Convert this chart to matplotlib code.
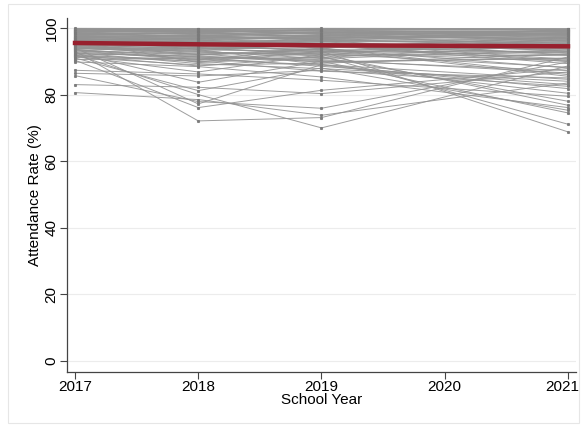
import matplotlib
matplotlib.use("Agg")
import matplotlib.pyplot as plt
import matplotlib.transforms as mtransforms
from matplotlib.patches import Rectangle

plt.rcParams['font.family'] = ['Liberation Sans', 'DejaVu Sans']

# school years with data (no 2020 collection)
years = [2017, 2018, 2019, 2021]

# attendance rate (%) per school, one entry per school in each list
rate_2017 = [80.6, 83.0, 85.7, 86.4, 87.3, 93.0, 92.0, 89.8, 90.3, 91.0,
             94.0, 92.5, 96.0, 95.0, 91.5, 97.0, 93.5, 90.5,
             99.8, 99.5, 99.3, 99.0, 98.8, 98.6, 98.3, 98.1, 97.9, 97.6,
             97.4, 97.2, 97.0, 96.8, 96.5, 96.3, 96.1, 95.9, 95.6, 95.4,
             95.2, 95.0, 94.7, 94.5, 94.2, 94.0, 93.7, 93.4, 93.1, 92.8,
             92.4, 92.0, 91.6, 91.2, 99.9, 99.7, 99.6, 99.4, 99.2, 98.9,
             98.7, 98.5, 98.2, 98.0, 97.8, 97.5, 97.3, 97.1, 96.9, 96.6,
             96.4, 96.2, 95.8, 95.7, 95.5, 95.3, 95.1, 94.8, 94.6, 94.3,
             94.1, 93.8, 93.5, 93.2, 92.6, 92.2, 91.8, 91.4, 99.1, 98.4,
             97.7, 96.7, 99.5, 98.9, 97.0, 96.0, 94.9, 93.9]
rate_2018 = [78.5, 82.2, 77.9, 85.6, 86.2, 72.1, 80.0, 88.4, 76.1, 81.2,
             77.2, 83.7, 89.6, 92.0, 86.8, 93.5, 90.5, 91.0,
             99.6, 99.1, 98.7, 99.4, 98.0, 97.4, 98.9, 97.7, 98.4, 96.8,
             97.9, 96.3, 97.1, 95.6, 96.9, 95.2, 96.5, 94.8, 95.9, 94.1,
             95.3, 93.6, 94.5, 92.9, 93.8, 92.4, 93.1, 91.8, 92.2, 90.9,
             91.4, 89.9, 90.6, 88.9, 99.8, 99.3, 99.7, 98.5, 99.0, 98.8,
             99.5, 98.2, 97.6, 98.6, 97.2, 97.8, 96.6, 97.5, 96.1, 96.7,
             95.8, 96.0, 95.5, 94.9, 95.1, 94.3, 94.6, 93.9, 93.3, 92.7,
             92.0, 94.0, 91.2, 90.3, 89.3, 91.6, 88.6, 90.1, 99.2, 98.3,
             97.3, 96.4, 99.6, 99.1, 97.0, 95.7, 94.7, 93.4]
rate_2019 = [73.8, 80.3, 75.9, 87.3, 84.3, 73.1, 70.0, 85.3, 81.3, 88.0,
             89.0, 90.0, 91.5, 93.0, 92.0, 89.0, 94.0, 88.5,
             99.7, 98.8, 99.4, 98.2, 97.5, 98.9, 97.1, 96.4, 98.6, 97.8,
             96.0, 95.2, 97.3, 94.6, 96.8, 95.8, 93.9, 96.2, 94.3, 95.5,
             92.8, 94.9, 93.2, 91.6, 94.0, 92.3, 90.8, 93.6, 89.7, 91.1,
             90.2, 92.6, 88.9, 89.4, 99.9, 99.5, 99.0, 99.6, 98.4, 99.2,
             98.0, 97.7, 98.7, 97.4, 96.9, 98.3, 97.0, 96.6, 97.6, 95.4,
             96.5, 95.0, 96.7, 94.4, 95.9, 93.5, 94.8, 92.5, 95.1, 91.9,
             93.8, 92.0, 90.5, 92.9, 87.8, 89.9, 91.3, 87.0, 99.3, 98.5,
             97.9, 96.3, 99.8, 98.6, 97.2, 96.1, 94.2, 93.0]
rate_2021 = [83.5, 86.8, 89.8, 82.5, 79.5, 91.3, 88.6, 76.1, 87.8, 75.3,
             84.6, 74.5, 71.1, 68.8, 76.8, 81.8, 86.0, 83.0,
             99.5, 99.2, 98.1, 97.6, 99.0, 96.2, 98.4, 95.3, 97.9, 94.7,
             99.6, 93.8, 96.8, 92.4, 98.7, 93.1, 97.2, 91.9, 95.8, 90.6,
             96.5, 89.3, 94.2, 92.9, 97.4, 88.2, 93.5, 85.5, 91.0, 94.9,
             87.2, 90.1, 80.4, 92.2, 99.8, 99.4, 98.9, 99.7, 98.3, 97.0,
             99.3, 96.6, 98.0, 95.0, 98.6, 96.0, 97.7, 94.4, 99.1, 95.6,
             97.5, 93.4, 98.2, 92.6, 96.3, 94.6, 90.3, 95.4, 89.9, 96.9,
             88.0, 91.7, 86.5, 93.0, 84.0, 90.8, 78.0, 85.0, 99.0, 98.5,
             97.8, 96.7, 99.6, 98.8, 97.1, 95.9, 93.9, 92.0]

# average attendance across schools
mean_rate = [95.5, 95.1, 94.8, 94.5]

fig = plt.figure(figsize=(5.81, 4.25), dpi=100)
fig.patch.set_facecolor('white')
fig.patches.append(Rectangle((8 / 581, 2 / 425), 571 / 581, 419 / 425,
                             transform=fig.transFigure, fill=False,
                             edgecolor='#e6e6e6', lw=0.8))

ax = fig.add_axes([67 / 581, 53 / 425, 509 / 581, 354 / 425])

for i in range(len(rate_2017)):
    vals = [rate_2017[i], rate_2018[i], rate_2019[i], rate_2021[i]]
    ax.plot(years, vals, color='#939393', lw=0.7, alpha=0.9,
            marker='s', ms=1.2, mec='#7a7a7a', mfc='#7a7a7a', zorder=2)

ax.plot(years, mean_rate, color='#98202e', lw=3.2, zorder=3)

ax.set_xlim(2016.935, 2021.065)
ax.set_ylim(-3.3, 103)
ax.set_xticks([2017, 2018, 2019, 2020, 2021])
ax.set_yticks([0, 20, 40, 60, 80, 100])
ax.set_yticklabels(['0', '20', '40', '60', '80', '100'], rotation=90, va='center')
ax.tick_params(labelsize=11, length=5, width=0.8, color='#444444')
ax.tick_params(axis='x', pad=1)
ax.tick_params(axis='y', pad=1)
ax.grid(axis='y', color='#ececec', lw=0.8, zorder=0)
ax.set_axisbelow(True)

# keep the last year label inside the canvas
last = ax.get_xticklabels()[-1]
last.set_transform(last.get_transform() +
                   mtransforms.ScaledTranslation(-6 / 100, 0, fig.dpi_scale_trans))

for side in ['top', 'right']:
    ax.spines[side].set_visible(False)
for side in ['left', 'bottom']:
    ax.spines[side].set_color('#444444')
    ax.spines[side].set_linewidth(0.9)

ax.set_xlabel('School Year', fontsize=11, labelpad=-1)
ax.set_ylabel('Attendance Rate (%)', fontsize=11, labelpad=2)

fig.savefig('out.png', dpi=100)
